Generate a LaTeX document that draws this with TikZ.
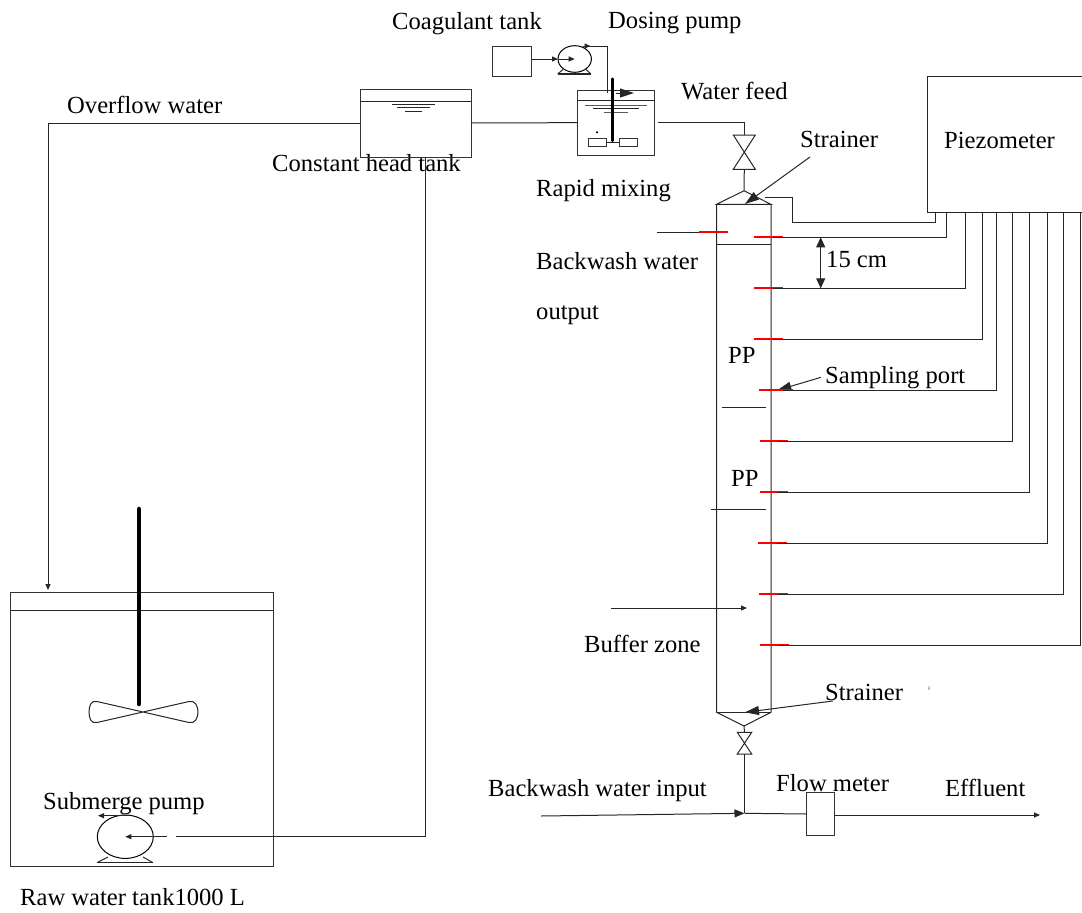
\documentclass[tikz,border=0pt]{standalone}
\usepackage{fontspec}
\setmainfont{Liberation Serif}
\usetikzlibrary{arrows.meta,shapes.geometric}
\tikzset{
  pipe/.style={draw=black!85, line width=1pt},
  flow/.style={pipe, -{Stealth[length=6pt,width=5pt,inset=0pt]}},
  bigflow/.style={pipe, -{Stealth[length=14pt,width=9pt,inset=0pt]}},
  tankbox/.style={draw=black!80, line width=1pt, inner sep=0pt, outer sep=0pt, anchor=north west},
  pumpbody/.style={ellipse, draw=black, line width=1pt, inner sep=0pt, outer sep=0pt},
  port/.style={draw=red, line width=2pt},
  label/.style={anchor=base west, inner sep=0pt, font=\fontsize{24.6}{28}\selectfont},
  shaft/.style={line width=3.2pt, line cap=round},
}
\begin{document}
\begin{tikzpicture}[x=1pt, y=-1pt]
  \useasboundingbox (0,0) rectangle (1082,913);

  \node[label] (overflowlab) at (67,113) {Overflow water};
  \node[label] (coaglab) at (392,29) {Coagulant tank};
  \node[label] (doselab) at (608,28) {Dosing pump};
  \node[label] (feedlab) at (681,99) {Water feed};
  \node[label] (strainertop) at (800,147) {Strainer};
  \node[label] (piezolab) at (944,148) {Piezometer};
  \node[label] (headlab) at (272,171) {Constant head tank};
  \node[label] (rapidlab) at (536,196) {Rapid mixing};
  \node[label] (backoutlab) at (536,269) {Backwash water};
  \node[label] (outputlab) at (536,319) {output};
  \node[label] (gaplab) at (826,267) {15 cm};
  \node[label] (pplaba) at (728,363) {PP};
  \node[label] (pplabb) at (731,486) {PP};
  \node[label] (samplab) at (825,383) {Sampling port};
  \node[label] (bufferlab) at (584,652) {Buffer zone};
  \node[label] (strainerbot) at (825,700) {Strainer};
  \node[anchor=base west, inner sep=0pt, font=\fontsize{5}{6}\selectfont, text=black!70] (flab) at (928,690) {F};
  \node[label] (backinlab) at (488,796) {Backwash water input};
  \node[label] (meterlab) at (776,791) {Flow meter};
  \node[label] (efflab) at (945,796) {Effluent};
  \node[label] (submlab) at (43,809) {Submerge pump};
  \node[label] (rawlab) at (20,905) {Raw water tank1000 L};

  \node[tankbox, minimum width=111pt, minimum height=68pt] (headtank) at (360,89) {};
  \node[tankbox, minimum width=77pt, minimum height=65.3pt] (mixtank) at (577.3,90) {};
  \node[tankbox, minimum width=39.4pt, minimum height=30pt] (coagtank) at (492.3,46.3) {};
  \node[tankbox, minimum width=263pt, minimum height=274pt] (rawtank) at (10.7,592) {};
  \node[tankbox, draw=none, minimum width=155pt, minimum height=136pt] (piezo) at (927,76) {};
  \node[tankbox, minimum width=27.7pt, minimum height=43.4pt] (meter) at (806.3,792.3) {};
  \node[pumpbody, minimum width=33.4pt, minimum height=26.6pt] (dosepump) at (574.7,59) {};
  \node[pumpbody, minimum width=56pt, minimum height=43.4pt] (subpump) at (125.3,836.7) {};
  \draw[pipe] (piezo.north east) -- (piezo.north west) -- (piezo.south west) -- (piezo.south east);

  % head tank and mixing tank
  \draw[pipe] (360,101) -- (471,101);
  \draw[pipe] (387,101) -- (440,101);
  \draw[pipe] (392,104.3) -- (435,104.3);
  \draw[pipe] (397,107.7) -- (430,107.7);
  \draw[pipe] (405,111) -- (422,111);
  \draw[pipe, line width=1.5pt] (577.3,100.7) -- (654.3,100.7);
  \draw[pipe, black!65] (585,105) -- (647,105);
  \draw[pipe] (593,108) -- (639,108);
  \draw[pipe, black!65] (604,112) -- (628,112);
  \draw[shaft] (612.7,79) -- (612.7,140.7);
  \node[tankbox, minimum width=18.7pt, minimum height=8.7pt] (bladea) at (588,138) {};
  \node[tankbox, minimum width=18.7pt, minimum height=8.7pt] (bladeb) at (619,138) {};
  \draw[pipe] (bladea.east) -- (bladeb.west);
  \fill (597,132.3) circle (1.2pt);
  \draw[bigflow] (616,93) -- (634,93);

  % pumps
  \coordinate (coagarrow) at (558,59);
  \draw[flow] (coagtank.east |- dosepump.center) -- (coagarrow);
  \draw[flow] (coagarrow) -- (dosepump.center);
  \draw[pipe] (557.7,74) -- (563,69.5) (591,74) -- (586,69.5);
  \draw[pipe, line width=1.5pt] (557.7,74) -- (591,74);
  \coordinate (doseout) at (583,46);
  \coordinate (dosein) at (607.3,92.7);
  \draw[pipe] (doseout) -| (dosein);
  \draw[flow] (583,46) -- (590.5,46);
  \draw[pipe] (97,862.7) -- (108,857) (153,862.7) -- (143,857);
  \draw[pipe, line width=1.5pt] (97,862.7) -- (153,862.7);
  \draw[flow] (130,815.7) -- (98,815.7);
  \coordinate (pumpfeed) at (175.7,836.7);
  \coordinate (headout) at (425,157);
  \draw[pipe] (headout) |- (pumpfeed);
  \draw[flow] (167,836.7) -- (subpump.center);

  % raw water tank
  \draw[pipe] (10.7,610) -- (273.7,610);
  \draw[shaft, line width=4.5pt] (139,509) -- (139,704);
  \draw[pipe] (143,712) -- (97,701.5) .. controls (91,700) and (89,706) .. (89,712) .. controls (89,718) and (91,724) .. (97,722.5) -- (189,701.5) .. controls (195,700) and (198,706) .. (198,712) .. controls (198,718) and (195,724) .. (189,722.5) -- cycle;

  % main pipes
  \coordinate (rawin) at (48,590);
  \draw[flow] (headtank.west) -| (rawin);
  \draw[pipe] (headtank.east) -- (mixtank.west);
  \coordinate (feedout) at (658,122.3);
  \coordinate (valvea) at (744.3,135);
  \draw[pipe] (feedout) -| (valvea);
  \draw[pipe] (733.3,135) -- (755.3,135) -- (733.3,169.3) -- (755.3,169.3) -- cycle;
  \coordinate (capapex) at (744,190.7);
  \draw[pipe] (744.3,169.3) -- (capapex);

  % column
  \draw[pipe] (716.7,204.3) -- (capapex) -- (770.9,204.3) -- cycle;
  \draw[pipe] (716.7,204.3) -- (716.7,712.3) -- (744,726) -- (771,712.3) -- (771,204.3);
  \draw[pipe] (716.7,712.3) -- (771,712.3);
  \draw[pipe] (716.7,244.7) -- (771,244.7);
  \draw[pipe] (722.3,407.3) -- (766.3,407.3);
  \draw[pipe] (711,509) -- (766,509);
  \draw[pipe] (657,232.3) -- (727.7,232.3);
  \draw[port] (699,232.3) -- (727.7,232.3);
  \draw[flow] (611,608) -- (747,608);
  \draw[bigflow] (810,157) -- (745,204);
  \draw[bigflow] (832.7,701) -- (745,712.3);
  \draw[bigflow] (821,377.3) -- (777.3,390.3);

  % piezometer lines
  \coordinate (capout) at (765.3,197.3);
  \draw[pipe] (capout) -- (792,197.3) -- (792,222) -- (935.7,222) -- (935.7,212);
  \foreach \i/\y/\xa/\xb/\xr in {1/237.3/754.3/783.3/946.7, 2/288.3/754.3/783.3/965.7, 3/339.3/754.3/783.3/982, 4/390.3/759/793/996.7, 5/441/760/788/1012, 6/492/760/788/1029.3, 7/543/758/787/1047.7, 8/594/759/788/1063.3, 9/645/760/789/1080}{
    \coordinate (port\i) at (\xa,\y);
    \coordinate (riser\i) at (\xr,212);
    \draw[port] (port\i) -- (\xb,\y);
    \draw[pipe] (\xb-10,\y) -| (riser\i);
  }
  \draw[pipe, {Stealth[length=10pt,width=9pt,inset=0pt]}-{Stealth[length=10pt,width=9pt,inset=0pt]}] (820.7,237.3) -- (820.7,288.3);

  % bottom
  \coordinate (valveb) at (744.5,732.3);
  \draw[pipe] (744,726) -- (valveb);
  \draw[pipe] (737.3,732.3) -- (751.7,732.3) -- (737.3,754) -- (751.7,754) -- cycle;
  \coordinate (junction) at (744.5,813.3);
  \draw[pipe] (744.5,754) -- (junction);
  \draw[pipe, -{Stealth[length=10pt,width=8pt,inset=0pt]}] (541,816) -- (junction);
  \draw[pipe] (junction) -- (meter.west);
  \coordinate (effout) at (1040,815);
  \draw[flow] (834,815) -- (effout);
\end{tikzpicture}
\end{document}
